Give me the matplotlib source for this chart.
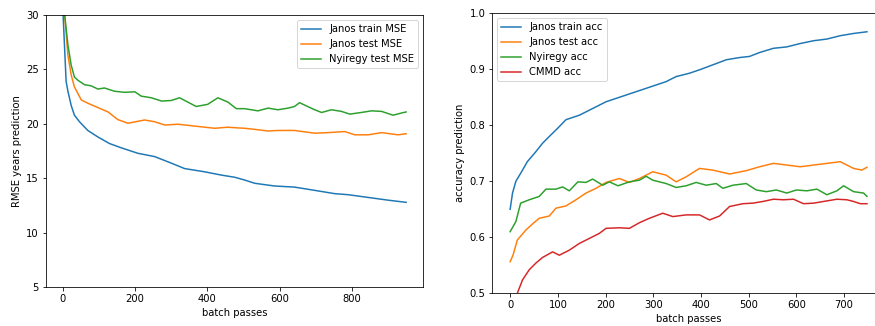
import matplotlib
matplotlib.use("Agg")
import matplotlib.pyplot as plt

# left chart: RMSE per batch pass
train_mse_x = [0, 9, 14, 23, 32, 46, 69, 97, 129, 162, 208, 254, 300, 337, 393, 439,
               476, 503, 531, 586, 641, 697, 752, 790, 845, 900, 950]
train_mse = [30.5, 23.9, 23.0, 21.7, 20.8, 20.2, 19.4, 18.8, 18.2, 17.8, 17.3, 17.0, 16.4,
             15.9, 15.6, 15.3, 15.1, 14.85, 14.55, 14.3, 14.2, 13.9, 13.6, 13.5, 13.25, 13.0, 12.8]

test_mse_x = [0, 5, 14, 23, 32, 51, 69, 97, 125, 152, 180, 226, 254, 282, 319, 365, 420,
              457, 476, 503, 531, 568, 595, 641, 697, 734, 780, 808, 845, 882, 928, 950]
test_mse = [32.0, 30.0, 26.3, 24.5, 23.4, 22.2, 21.9, 21.5, 21.1, 20.4, 20.06, 20.36, 20.2,
            19.9, 19.97, 19.8, 19.6, 19.7, 19.65, 19.6, 19.5, 19.35, 19.4, 19.4, 19.15, 19.2,
            19.3, 19.0, 19.0, 19.2, 19.0, 19.1]

nyiregy_mse_x = [0, 5, 14, 23, 32, 42, 60, 78, 97, 115, 143, 171, 199, 217, 245, 273, 300,
                 323, 346, 369, 401, 429, 457, 480, 503, 540, 568, 595, 623, 641, 655, 674,
                 697, 716, 743, 771, 794, 826, 854, 882, 914, 937, 950]
nyiregy_mse = [32.0, 30.0, 27.25, 25.4, 24.3, 24.0, 23.6, 23.5, 23.2, 23.3, 23.0, 22.9, 22.95,
               22.55, 22.4, 22.1, 22.15, 22.4, 22.0, 21.6, 21.8, 22.4, 22.0, 21.4, 21.4, 21.2,
               21.45, 21.3, 21.45, 21.6, 21.95, 21.65, 21.3, 21.05, 21.3, 21.15, 20.9, 21.05,
               21.2, 21.15, 20.8, 21.0, 21.1]

# right chart: accuracy per batch pass
train_acc_x = [0, 5, 12, 26, 36, 54, 68, 82, 100, 117, 145, 166, 201, 236, 271, 299, 327,
               348, 376, 400, 425, 453, 481, 502, 523, 552, 580, 608, 636, 664, 692, 720, 748]
train_acc = [0.65, 0.679, 0.70, 0.72, 0.735, 0.753, 0.768, 0.78, 0.795, 0.81, 0.818, 0.827,
             0.842, 0.852, 0.862, 0.87, 0.878, 0.887, 0.893, 0.90, 0.908, 0.917, 0.921, 0.923,
             0.93, 0.9375, 0.94, 0.946, 0.951, 0.954, 0.96, 0.964, 0.967]

test_acc_x = [0, 6, 15, 33, 47, 61, 82, 96, 117, 138, 159, 180, 201, 229, 250, 271, 299,
              327, 348, 369, 397, 425, 460, 495, 523, 552, 580, 608, 636, 664, 692, 720, 737, 748]
test_acc = [0.5565, 0.568, 0.595, 0.613, 0.624, 0.634, 0.638, 0.652, 0.656, 0.667, 0.679,
            0.6875, 0.698, 0.705, 0.698, 0.705, 0.717, 0.711, 0.699, 0.708, 0.723, 0.72,
            0.713, 0.719, 0.726, 0.732, 0.729, 0.726, 0.729, 0.732, 0.735, 0.723, 0.72, 0.725]

nyiregy_acc_x = [0, 12, 22, 40, 61, 75, 96, 110, 124, 142, 159, 173, 194, 208, 226, 250,
                 271, 285, 299, 327, 348, 369, 390, 411, 432, 446, 467, 495, 516, 537, 558,
                 580, 600, 622, 643, 664, 685, 699, 720, 741, 748]
nyiregy_acc = [0.61, 0.628, 0.661, 0.667, 0.673, 0.686, 0.686, 0.69, 0.683, 0.699, 0.698,
               0.704, 0.693, 0.699, 0.692, 0.699, 0.702, 0.709, 0.702, 0.696, 0.689, 0.692,
               0.698, 0.693, 0.696, 0.6875, 0.693, 0.696, 0.6845, 0.6815, 0.6845, 0.679,
               0.6845, 0.683, 0.686, 0.676, 0.683, 0.692, 0.6815, 0.679, 0.673]

cmmd_acc_x = [0, 15, 26, 40, 54, 68, 89, 103, 124, 145, 166, 187, 201, 229, 250, 271, 292,
              320, 341, 369, 397, 418, 439, 460, 488, 509, 530, 552, 573, 594, 615, 636, 657,
              685, 706, 720, 734, 748]
cmmd_acc = [0.475, 0.5, 0.524, 0.542, 0.554, 0.564, 0.574, 0.568, 0.577, 0.589, 0.598, 0.607,
            0.616, 0.617, 0.616, 0.626, 0.634, 0.643, 0.637, 0.64, 0.64, 0.631, 0.638, 0.655,
            0.66, 0.661, 0.664, 0.668, 0.667, 0.668, 0.66, 0.661, 0.664, 0.668, 0.667, 0.664,
            0.66, 0.66]

fig = plt.figure(figsize=(875 / 72, 326 / 72), dpi=72)

#left plot
ax1 = fig.add_axes([45.7 / 875, 38.7 / 326, 377.6 / 875, 272.3 / 326])
ax1.plot(train_mse_x, train_mse, label="Janos train MSE")
ax1.plot(test_mse_x, test_mse, label="Janos test MSE")
ax1.plot(nyiregy_mse_x, nyiregy_mse, label="Nyiregy test MSE")
ax1.set_ylim(5, 30)
ax1.set_xlabel("batch passes")
ax1.set_ylabel("RMSE years prediction")
ax1.legend(loc="upper right")

#right plot (cut off at the right edge, like the original)
ax2 = fig.add_axes([492.3 / 875, 32.7 / 326, 392.5 / 875, 280 / 326])
ax2.plot(train_acc_x, train_acc, label="Janos train acc")
ax2.plot(test_acc_x, test_acc, label="Janos test acc")
ax2.plot(nyiregy_acc_x, nyiregy_acc, label="Nyiregy acc")
ax2.plot(cmmd_acc_x, cmmd_acc, label="CMMD acc")
ax2.set_ylim(0.5, 1.0)
ax2.set_xlabel("batch passes")
ax2.set_ylabel("accuracy prediction")
ax2.legend(loc="upper left")

fig.savefig("out.png", dpi=72)
